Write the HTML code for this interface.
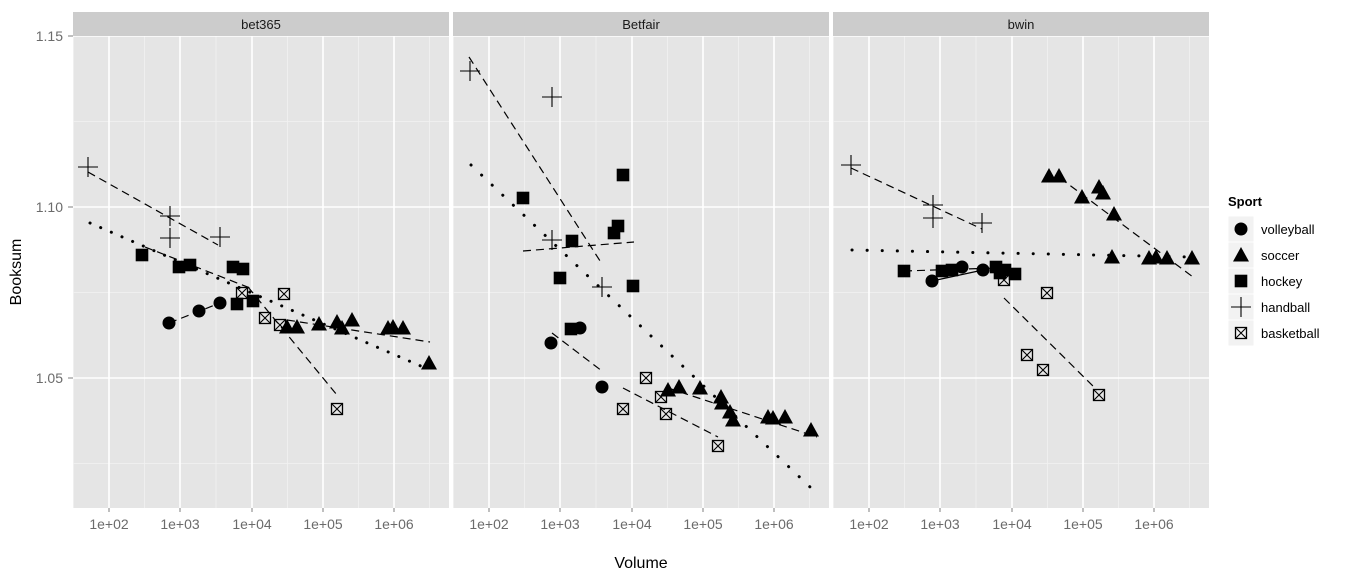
<!DOCTYPE html>
<html><head><meta charset="utf-8"><style>
html,body{margin:0;padding:0;background:#fff;}
svg{display:block;font-family:"Liberation Sans",Arial,sans-serif;}
</style></head><body>
<svg width="1348" height="582" viewBox="0 0 1348 582" xmlns="http://www.w3.org/2000/svg">
<defs>
<g id="sq"><rect x="-6.3" y="-6.3" width="12.6" height="12.6" fill="#000"/></g>
<g id="ci"><circle r="6.5" fill="#000"/></g>
<g id="tr"><path d="M0,-8 L8,6.5 L-8,6.5 Z" fill="#000"/></g>
<g id="pl"><path d="M-10,0 H10 M0,-10 V10" stroke="#000" stroke-width="1.1" fill="none"/></g>
<g id="bx"><rect x="-5.5" y="-5.5" width="11" height="11" fill="none" stroke="#000" stroke-width="1.3"/><path d="M-5.5,-5.5 L5.5,5.5 M5.5,-5.5 L-5.5,5.5" stroke="#000" stroke-width="1.1"/></g>
<g id="panelbg">
<rect x="73" y="36" width="376" height="472" fill="#e5e5e5"/>
<g stroke="#f2f2f2" stroke-width="0.8">
<line x1="73" x2="449" y1="121.5" y2="121.5"/><line x1="73" x2="449" y1="292.5" y2="292.5"/><line x1="73" x2="449" y1="463.5" y2="463.5"/>
<line x1="73.5" x2="73.5" y1="36" y2="508"/><line x1="144.5" x2="144.5" y1="36" y2="508"/><line x1="216" x2="216" y1="36" y2="508"/><line x1="287.5" x2="287.5" y1="36" y2="508"/><line x1="358.5" x2="358.5" y1="36" y2="508"/><line x1="429.5" x2="429.5" y1="36" y2="508"/>
</g>
<g stroke="#fff" stroke-width="1.6">
<line x1="73" x2="449" y1="36" y2="36"/><line x1="73" x2="449" y1="207" y2="207"/><line x1="73" x2="449" y1="378" y2="378"/>
<line x1="109" x2="109" y1="36" y2="508"/><line x1="180" x2="180" y1="36" y2="508"/><line x1="252" x2="252" y1="36" y2="508"/><line x1="323" x2="323" y1="36" y2="508"/><line x1="394" x2="394" y1="36" y2="508"/>
</g>
<rect x="73" y="12" width="376" height="24" fill="#cccccc"/>
<g stroke="#7f7f7f" stroke-width="1"><line x1="109" x2="109" y1="508" y2="512"/><line x1="180" x2="180" y1="508" y2="512"/><line x1="252" x2="252" y1="508" y2="512"/><line x1="323" x2="323" y1="508" y2="512"/><line x1="394" x2="394" y1="508" y2="512"/></g>
<g font-size="14" fill="#6b6b6b" text-anchor="middle"><text x="109" y="529">1e+02</text><text x="180" y="529">1e+03</text><text x="252" y="529">1e+04</text><text x="323" y="529">1e+05</text><text x="394" y="529">1e+06</text></g>
</g>
</defs>

<use href="#panelbg"/>
<use href="#panelbg" transform="translate(380,0)"/>
<use href="#panelbg" transform="translate(760,0)"/>
<g font-size="13" fill="#1a1a1a" text-anchor="middle"><text x="261" y="29">bet365</text><text x="641" y="29">Betfair</text><text x="1021" y="29">bwin</text></g>

<g font-size="14" fill="#6b6b6b" text-anchor="end"><text x="63" y="41">1.15</text><text x="63" y="212">1.10</text><text x="63" y="383">1.05</text></g>
<g stroke="#7f7f7f"><line x1="68" x2="73" y1="36" y2="36"/><line x1="68" x2="73" y1="207" y2="207"/><line x1="68" x2="73" y1="378" y2="378"/></g>
<text x="641" y="568" font-size="16" text-anchor="middle" fill="#000">Volume</text>
<text transform="translate(21,272) rotate(-90)" font-size="16" text-anchor="middle" fill="#000">Booksum</text>

<!-- Panel 1 -->
<g fill="none" stroke="#000" stroke-width="1.2" stroke-dasharray="8,5">
<line x1="88" y1="172" x2="218" y2="245"/>
<line x1="145" y1="247" x2="250" y2="288"/>
<line x1="169" y1="323" x2="220" y2="303"/>
<line x1="248" y1="287" x2="337" y2="395"/>
<line x1="287" y1="320" x2="430" y2="342"/>
</g>
<line x1="90" y1="223" x2="423" y2="367" stroke="#000" stroke-width="3" stroke-dasharray="0.1,11.5" stroke-linecap="round"/>
<use href="#pl" x="88" y="167"/><use href="#pl" x="170" y="216"/><use href="#pl" x="170" y="238"/><use href="#pl" x="220" y="237"/>
<use href="#sq" x="142" y="255"/><use href="#sq" x="179" y="267"/><use href="#sq" x="190" y="265"/><use href="#sq" x="233" y="267"/><use href="#sq" x="243" y="269"/><use href="#sq" x="237" y="304"/><use href="#sq" x="253" y="301"/>
<use href="#ci" x="169" y="323"/><use href="#ci" x="199" y="311"/><use href="#ci" x="220" y="303"/>
<use href="#bx" x="242" y="293"/><use href="#bx" x="284" y="294"/><use href="#bx" x="265" y="318"/><use href="#bx" x="280" y="325"/><use href="#bx" x="337" y="409"/>
<use href="#tr" x="287" y="327"/><use href="#tr" x="297" y="327"/><use href="#tr" x="319" y="324"/><use href="#tr" x="337" y="322"/><use href="#tr" x="342" y="328"/><use href="#tr" x="352" y="320"/><use href="#tr" x="388" y="328"/><use href="#tr" x="393" y="327"/><use href="#tr" x="403" y="328"/><use href="#tr" x="429" y="363"/>

<!-- Panel 2 -->
<g fill="none" stroke="#000" stroke-width="1.2" stroke-dasharray="8,5">
<line x1="469" y1="57" x2="602" y2="264"/>
<line x1="523" y1="251" x2="634" y2="242"/>
<line x1="552" y1="333" x2="602" y2="371"/>
<line x1="623" y1="388" x2="718" y2="437"/>
<line x1="668" y1="388" x2="817" y2="437"/>
</g>
<line x1="471" y1="165" x2="810" y2="487" stroke="#000" stroke-width="3" stroke-dasharray="0.1,14.5" stroke-linecap="round"/>
<use href="#pl" x="470" y="71"/><use href="#pl" x="552" y="97"/><use href="#pl" x="552" y="240"/><use href="#pl" x="602" y="287"/>
<use href="#sq" x="523" y="198"/><use href="#sq" x="623" y="175"/><use href="#sq" x="618" y="226"/><use href="#sq" x="614" y="233"/><use href="#sq" x="572" y="241"/><use href="#sq" x="560" y="278"/><use href="#sq" x="633" y="286"/><use href="#sq" x="571" y="329"/>
<use href="#ci" x="551" y="343"/><use href="#ci" x="580" y="328"/><use href="#ci" x="602" y="387"/>
<use href="#bx" x="646" y="378"/><use href="#bx" x="661" y="397"/><use href="#bx" x="623" y="409"/><use href="#bx" x="666" y="414"/><use href="#bx" x="718" y="446"/>
<use href="#tr" x="668" y="390"/><use href="#tr" x="679" y="387"/><use href="#tr" x="700" y="388"/><use href="#tr" x="721" y="397"/><use href="#tr" x="722" y="403"/><use href="#tr" x="730" y="412"/><use href="#tr" x="733" y="420"/><use href="#tr" x="768" y="417"/><use href="#tr" x="773" y="418"/><use href="#tr" x="785" y="417"/><use href="#tr" x="811" y="430"/>

<!-- Panel 3 -->
<g fill="none" stroke="#000" stroke-width="1.2" stroke-dasharray="8,5">
<line x1="851" y1="168" x2="982" y2="229"/>
<line x1="1060" y1="178" x2="1193" y2="277"/>
<line x1="904" y1="271" x2="997" y2="268"/>
<line x1="1004" y1="298" x2="1097" y2="390"/>
</g>
<line x1="932" y1="281" x2="983" y2="270" stroke="#000" stroke-width="1.2"/>
<line x1="852" y1="250" x2="1193" y2="257" stroke="#000" stroke-width="3" stroke-dasharray="0.1,15" stroke-linecap="round"/>
<use href="#pl" x="851" y="165"/><use href="#pl" x="933" y="205"/><use href="#pl" x="933" y="218"/><use href="#pl" x="982" y="223"/>
<use href="#tr" x="1049" y="176"/><use href="#tr" x="1059" y="176"/><use href="#tr" x="1099" y="187"/><use href="#tr" x="1103" y="193"/><use href="#tr" x="1082" y="197"/><use href="#tr" x="1114" y="214"/><use href="#tr" x="1112" y="257"/><use href="#tr" x="1149" y="258"/><use href="#tr" x="1156" y="257"/><use href="#tr" x="1167" y="258"/><use href="#tr" x="1192" y="258"/>
<use href="#sq" x="904" y="271"/><use href="#sq" x="942" y="271"/><use href="#sq" x="952" y="270"/><use href="#sq" x="996" y="267"/><use href="#sq" x="1005" y="270"/><use href="#sq" x="1000" y="273"/><use href="#sq" x="1015" y="274"/>
<use href="#ci" x="932" y="281"/><use href="#ci" x="962" y="267"/><use href="#ci" x="983" y="270"/>
<use href="#bx" x="1004" y="280"/><use href="#bx" x="1047" y="293"/><use href="#bx" x="1027" y="355"/><use href="#bx" x="1043" y="370"/><use href="#bx" x="1099" y="395"/>

<!-- Legend -->
<text x="1228" y="206" font-size="13" font-weight="bold">Sport</text>
<g fill="#f2f2f2" stroke="#fff"><rect x="1228" y="216" width="26" height="26"/><rect x="1228" y="242" width="26" height="26"/><rect x="1228" y="268" width="26" height="26"/><rect x="1228" y="294" width="26" height="26"/><rect x="1228" y="320" width="26" height="26"/></g>
<use href="#ci" x="1241" y="229"/><use href="#tr" x="1241" y="255"/><use href="#sq" x="1241" y="281"/><use href="#pl" x="1241" y="307"/><use href="#bx" x="1241" y="333"/>
<g font-size="13" fill="#000"><text x="1261" y="234">volleyball</text><text x="1261" y="260">soccer</text><text x="1261" y="286">hockey</text><text x="1261" y="312">handball</text><text x="1261" y="338">basketball</text></g>
</svg>
</body></html>
